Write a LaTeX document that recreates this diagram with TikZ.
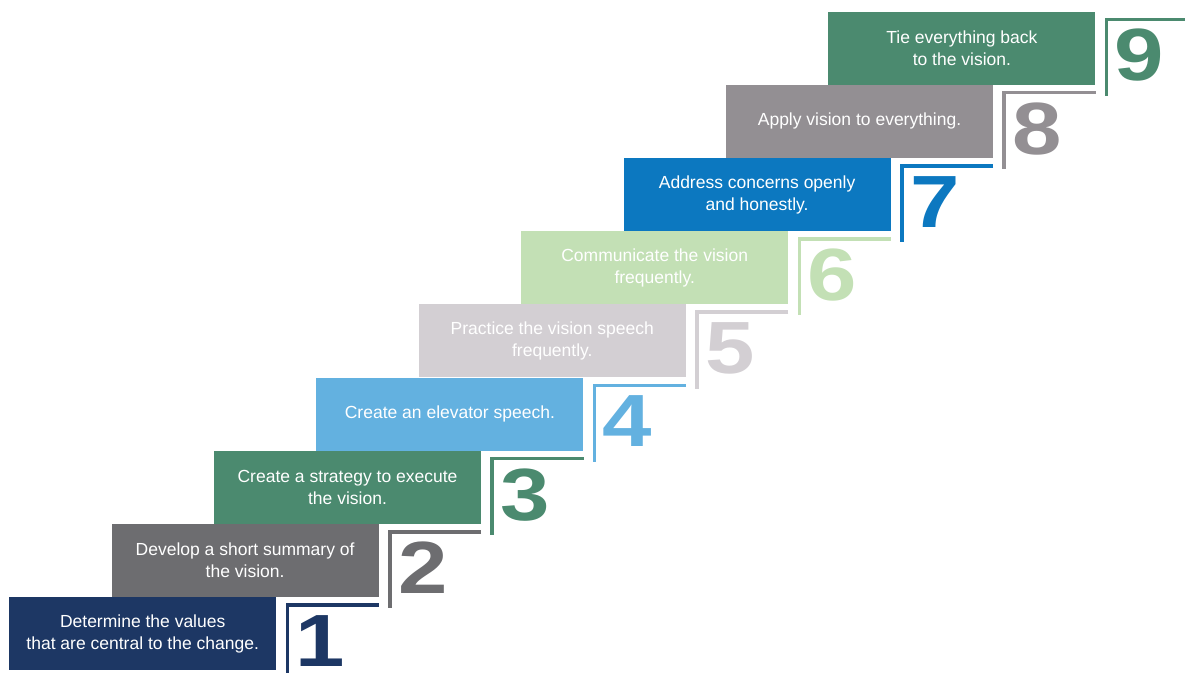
\documentclass[tikz,border=0pt]{standalone}
\usepackage{fontspec}
\setmainfont{Liberation Sans}
\usetikzlibrary{calc}

\definecolor{stepA}{HTML}{1D3764}
\definecolor{stepB}{HTML}{6D6D70}
\definecolor{stepC}{HTML}{4B8A6F}
\definecolor{stepD}{HTML}{63B1E0}
\definecolor{stepE}{HTML}{D3CFD3}
\definecolor{stepF}{HTML}{C3E0B5}
\definecolor{stepG}{HTML}{0C78C0}
\definecolor{stepH}{HTML}{938F93}
\definecolor{stepI}{HTML}{4B8A6F}

\tikzset{
  stepbox/.style={minimum width=267pt, minimum height=73pt, inner sep=0pt,
    anchor=north west, text=white, align=center,
    font=\fontsize{17.5}{22}\selectfont},
  stepnum/.style={anchor=base west, inner sep=0pt,
    font=\fontsize{74}{74}\selectfont\bfseries},
  bracket/.style={line width=3.5pt}
}

\begin{document}
\begin{tikzpicture}[x=1pt, y=-1pt]
	\useasboundingbox (0, 0) rectangle (1185, 673);
	\foreach \i/\col/\txt in {
		1/stepA/{Determine the values\\that are central to the change.},
		2/stepB/{Develop a short summary of\\the vision.},
		3/stepC/{Create a strategy to execute\\the vision.},
		4/stepD/{Create an elevator speech.},
		5/stepE/{Practice the vision speech\\frequently.},
		6/stepF/{Communicate the vision\\frequently.},
		7/stepG/{Address concerns openly\\and honestly.},
		8/stepH/{Apply vision to everything.},
		9/stepI/{Tie everything back\\to the vision.}} {
		\node[stepbox, fill=\col] (box\i) at ({9+102.4*(\i-1)}, {597-73.2*(\i-1)}) {\txt};
		% bracket beside the step
		\ifnum\i=1
			\coordinate (low\i) at ($(box\i.south east)+(11, 0)$);
			\coordinate (low\i) at (low\i |- 0, 673);
		\else
			\coordinate (low\i) at ($(box\i.south east)+(11, 11)$);
		\fi
		\ifnum\i=9
			\coordinate (end\i) at ($(box\i.north east)+(0, 8)$);
			\coordinate (end\i) at (1185, 0 |- end\i);
		\else
			\coordinate (end\i) at ($(box\i.north east)+(102.4, 8)$);
		\fi
		\draw[bracket, \col] (end\i) -- (end\i -| low\i) -- (low\i);
		\node[stepnum, text=\col] (num\i) at ($(box\i.south east)+(19, -4)$)
			{\scalebox{1.2}[1]{\i}};
	}
\end{tikzpicture}
\end{document}
